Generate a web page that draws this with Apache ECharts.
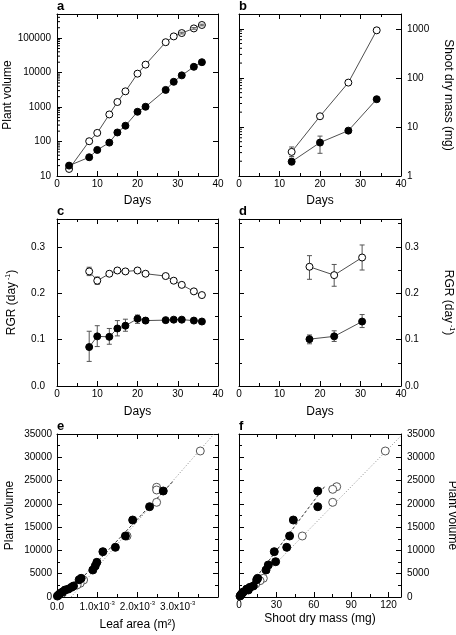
<!DOCTYPE html>
<html><head><meta charset="utf-8">
<script src="https://cdn.jsdelivr.net/npm/echarts@6.0.0/dist/echarts.min.js"></script>
<style>html,body{margin:0;padding:0;background:#fff;}#chart{width:456px;height:635px;}</style>
</head><body><div id="chart"></div>
<script>
// ---------- Panel a: plant volume vs days (log)
const daysA = [3, 8, 10, 13, 15, 17, 20, 22, 27, 29, 31, 34, 36];
const volOpenA = [16, 102, 178, 610, 1400, 2860, 9300, 17000, 76000, 112000, 140000, 191000, 240000];
const volFilledA = [20, 35, 57, 93, 183, 287, 730, 1020, 3140, 5400, 8300, 14700, 20000];
const errDaysOpenA = [31, 34, 36];
const errLoOpenA = [132000, 181000, 227000];
const errHiOpenA = [148000, 201000, 253000];

// ---------- Panel b: shoot dry mass vs days (log)
const daysB = [13, 20, 27, 34];
const massOpenB = [3.1, 16.5, 80, 930];
const errLoOpenB = [2.5, 15.5, 75, 880];
const errHiOpenB = [3.9, 17.5, 85, 980];
const massFilledB = [1.96, 4.8, 8.4, 36.7];
const errLoFilledB = [1.7, 2.9, 7.6, 33];
const errHiFilledB = [2.3, 6.5, 9.3, 41];

// ---------- Panel c: RGR (plant volume) vs days
const daysC = [8, 10, 13, 15, 17, 20, 22, 27, 29, 31, 34, 36];
const rgrOpenC = [0.247, 0.227, 0.242, 0.249, 0.247, 0.249, 0.242, 0.237, 0.227, 0.218, 0.204, 0.196];
const errLoOpenC = [0.238, 0.219, 0.237, 0.245, 0.243, 0.245, 0.238, 0.234, 0.224, 0.215, 0.201, 0.193];
const errHiOpenC = [0.256, 0.235, 0.247, 0.253, 0.251, 0.253, 0.246, 0.240, 0.230, 0.221, 0.207, 0.199];
const rgrFilledC = [0.084, 0.107, 0.106, 0.124, 0.130, 0.145, 0.141, 0.142, 0.143, 0.143, 0.141, 0.139];
const errLoFilledC = [0.053, 0.085, 0.090, 0.108, 0.118, 0.135, 0.135, 0.138, 0.139, 0.139, 0.137, 0.135];
const errHiFilledC = [0.118, 0.130, 0.124, 0.141, 0.144, 0.153, 0.147, 0.146, 0.147, 0.147, 0.145, 0.143];

// ---------- Panel d: RGR (shoot mass) vs days
const daysD = [17.4, 23.5, 30.4];
const rgrOpenD = [0.257, 0.239, 0.277];
const errLoOpenD = [0.230, 0.215, 0.250];
const errHiOpenD = [0.281, 0.262, 0.304];
const rgrFilledD = [0.101, 0.107, 0.139];
const errLoFilledD = [0.091, 0.096, 0.126];
const errHiFilledD = [0.110, 0.119, 0.154];

// ---------- Panel e: plant volume vs leaf area
const leafFilledE = [2.64e-3, 2.30e-3, 1.88e-3, 1.70e-3, 1.45e-3, 1.14e-3, 0.99e-3, 0.95e-3, 0.89e-3, 0.60e-3, 0.55e-3, 0.41e-3, 0.36e-3, 0.28e-3, 0.20e-3, 0.14e-3, 0.08e-3, 0.04e-3, 0.01e-3];
const volFilledE = [22760, 19390, 16530, 13100, 10670, 9730, 7450, 6660, 5800, 4010, 3700, 2360, 2080, 1700, 1500, 1100, 790, 450, 200];
const leafOpenE = [3.56e-3, 2.475e-3, 2.475e-3, 2.475e-3, 1.74e-3, 0.66e-3, 0.575e-3, 0.50e-3];
const volOpenE = [31350, 23560, 22980, 20330, 13100, 3650, 2940, 2600];
const fitFilledLeafE = [0.18e-3, 2.9e-3];
const fitFilledVolE = [0, 25000];
const fitOpenLeafE = [0.35e-3, 3.9e-3];
const fitOpenVolE = [0, 35000];
const leafTickVals = [0, 1e-3, 2e-3, 3e-3];
const leafTickText = ['0.0', '1.0x10', '2.0x10', '3.0x10'];

// ---------- Panel f: plant volume vs shoot dry mass
const massFilledF = [63.2, 63.2, 43.6, 40.6, 38.3, 28.3, 29.4, 23.5, 21.7, 15.0, 14.2, 11.5, 8.8, 6.2, 7.5, 3.5, 2.5, 1.5, 0.8];
const volFilledF = [22760, 19390, 16530, 13100, 10670, 9730, 7580, 6870, 5800, 4010, 3700, 2360, 2080, 1700, 1500, 1100, 790, 450, 200];
const massOpenF = [117.4, 78.4, 75.2, 75.2, 50.8, 19.5, 16.9, 13.4];
const volOpenF = [31350, 23690, 23120, 20330, 13100, 4010, 3500, 2800];
const fitFilledMassF = [2, 69.5];
const fitFilledVolF = [0, 24000];
const fitOpenMassF = [3.2, 130];
const fitOpenVolF = [0, 34600];

// ---------- log minor ticks
const logMinorMult = [2, 3, 4, 5, 6, 7, 8, 9];
const decadesA = [10, 100, 1000, 10000, 100000];
const decadesB = [1, 10, 100, 1000];

const FONT = "'Liberation Sans', Arial, Helvetica, sans-serif";
const zip = (a, b) => a.map((v, i) => [v, b[i]]);
const zip3 = (a, b, c) => a.map((v, i) => [v, b[i], c[i]]);

const grids = [
  {left: 57, top: 14, width: 161, height: 162},
  {left: 239, top: 14, width: 162, height: 162},
  {left: 57, top: 219, width: 161, height: 167},
  {left: 239, top: 219, width: 162, height: 167},
  {left: 57, top: 434, width: 161, height: 163},
  {left: 239, top: 434, width: 162, height: 163}
].map(g => Object.assign({show: false, containLabel: false, outerBoundsMode: 'none'}, g));

function mkAxis(o) {
  const ax = {
    gridIndex: o.grid,
    type: o.type || 'value',
    position: o.pos,
    min: o.min, max: o.max,
    axisLine: {show: true, onZero: false, lineStyle: {color: '#000', width: 1}},
    axisTick: {show: true, inside: true, length: 5, lineStyle: {color: '#000', width: 1}},
    minorTick: {show: !!o.minor, splitNumber: o.minor || 2, length: 3, lineStyle: {color: '#000', width: 1}},
    splitLine: {show: false},
    minorSplitLine: {show: false},
    axisLabel: {show: !!o.labels, margin: o.margin || 4, fontSize: 10, color: '#000', fontFamily: FONT,
      showMaxLabel: o.showMax !== undefined ? o.showMax : null, formatter: o.formatter, rich: o.rich},
    silent: true
  };
  if (o.interval !== undefined) ax.interval = o.interval;
  if (o.name) {
    ax.name = o.name;
    ax.nameLocation = 'middle';
    ax.nameGap = o.nameGap;
    if (o.nameRotate !== undefined) ax.nameRotate = o.nameRotate;
    ax.nameTextStyle = Object.assign({fontSize: 12, color: '#000', fontFamily: FONT}, o.nameStyle || {});
  }
  return ax;
}

const logFmt = v => String(Math.round(v));
const plainFmt = v => String(Math.round(v));
const rgrName = '{n|RGR (day}{s| -1}{n|)}';
const rgrRich = {rich: {n: {fontSize: 12, fontFamily: FONT, color: '#000'}, s: {fontSize: 7, fontFamily: FONT, color: '#000', verticalAlign: 'top', padding: [0, 0, 6, 0]}}};
const leafFmt = v => {
  const i = leafTickVals.findIndex(t => Math.abs(t - v) < 1e-9);
  if (i < 0) return '';
  return i === 0 ? '{m|' + leafTickText[i] + '}' : '{m|' + leafTickText[i] + '}{s|-3}';
};
const leafRich = {m: {fontSize: 10, fontFamily: FONT, color: '#000', lineHeight: 14}, s: {fontSize: 6, fontFamily: FONT, color: '#000', verticalAlign: 'top', lineHeight: 8}};
const hideNon = step => v => (Math.abs(v / step - Math.round(v / step)) < 1e-6 ? String(+v.toFixed(6)) : '');

const xAxes = [
  // a
  mkAxis({grid: 0, pos: 'bottom', min: 0, max: 40, interval: 10, minor: 2, labels: true, margin: 3, name: 'Days', nameGap: 19}),
  mkAxis({grid: 0, pos: 'top', min: 0, max: 40, interval: 10, minor: 2}),
  // b
  mkAxis({grid: 1, pos: 'bottom', min: 0, max: 40, interval: 10, minor: 2, labels: true, margin: 3, name: 'Days', nameGap: 19}),
  mkAxis({grid: 1, pos: 'top', min: 0, max: 40, interval: 10, minor: 2}),
  // c
  mkAxis({grid: 2, pos: 'bottom', min: 0, max: 40, interval: 10, minor: 2, labels: true, margin: 3, name: 'Days', nameGap: 20}),
  mkAxis({grid: 2, pos: 'top', min: 0, max: 40, interval: 10, minor: 2}),
  // d
  mkAxis({grid: 3, pos: 'bottom', min: 0, max: 40, interval: 10, minor: 2, labels: true, margin: 3, name: 'Days', nameGap: 20}),
  mkAxis({grid: 3, pos: 'top', min: 0, max: 40, interval: 10, minor: 2}),
  // e
  mkAxis({grid: 4, pos: 'bottom', min: 0, max: 0.004, interval: 0.001, minor: 2, labels: true, margin: 3,
    formatter: leafFmt, rich: leafRich, name: 'Leaf area (m\u00B2)', nameGap: 22}),
  mkAxis({grid: 4, pos: 'top', min: 0, max: 0.004, interval: 0.001, minor: 2}),
  // f
  mkAxis({grid: 5, pos: 'bottom', min: 0, max: 130, interval: 30, minor: 2, labels: true, margin: 3,
    formatter: hideNon(30), name: 'Shoot dry mass (mg)', nameGap: 16}),
  mkAxis({grid: 5, pos: 'top', min: 0, max: 130, interval: 30, minor: 2})
];

const yAxes = [
  // a
  mkAxis({grid: 0, pos: 'left', type: 'log', min: 10, max: 500000, labels: true, margin: 6, showMax: false,
    formatter: logFmt, name: 'Plant volume', nameGap: 39, nameRotate: 90}),
  mkAxis({grid: 0, pos: 'right', type: 'log', min: 10, max: 500000}),
  // b
  mkAxis({grid: 1, pos: 'right', type: 'log', min: 1, max: 2000, labels: true, margin: 6, showMax: false,
    formatter: logFmt, name: 'Shoot dry mass (mg)', nameGap: 41, nameRotate: -90}),
  mkAxis({grid: 1, pos: 'left', type: 'log', min: 1, max: 2000}),
  // c
  mkAxis({grid: 2, pos: 'left', min: 0, max: 0.36, interval: 0.1, minor: 2, labels: true, margin: 12, showMax: false,
    formatter: v => v.toFixed(1), name: rgrName, nameGap: 39, nameRotate: 90, nameStyle: rgrRich}),
  mkAxis({grid: 2, pos: 'right', min: 0, max: 0.36, interval: 0.1, minor: 2}),
  // d
  mkAxis({grid: 3, pos: 'right', min: 0, max: 0.36, interval: 0.1, minor: 2, labels: true, margin: 4, showMax: false,
    formatter: v => v.toFixed(1), name: rgrName, nameGap: 41, nameRotate: -90, nameStyle: rgrRich}),
  mkAxis({grid: 3, pos: 'left', min: 0, max: 0.36, interval: 0.1, minor: 2}),
  // e
  mkAxis({grid: 4, pos: 'left', min: 0, max: 35000, interval: 5000, minor: 2, labels: true, margin: 5,
    formatter: plainFmt, name: 'Plant volume', nameGap: 41, nameRotate: 90}),
  mkAxis({grid: 4, pos: 'right', min: 0, max: 35000, interval: 5000, minor: 2}),
  // f
  mkAxis({grid: 5, pos: 'right', min: 0, max: 35000, interval: 5000, minor: 2, labels: true, margin: 6,
    formatter: plainFmt, name: 'Plant volume', nameGap: 45, nameRotate: -90}),
  mkAxis({grid: 5, pos: 'left', min: 0, max: 35000, interval: 5000, minor: 2})
];

function lineS(gi, xs, ys, filled) {
  return {
    type: 'line', xAxisIndex: 2 * gi, yAxisIndex: 2 * gi, data: zip(xs, ys),
    symbol: 'circle', symbolSize: 7, showSymbol: true, showAllSymbol: true, z: 3,
    lineStyle: {color: '#222', width: 0.8},
    itemStyle: {color: filled ? '#000' : '#fff', borderColor: '#000', borderWidth: 1},
    emphasis: {disabled: true}, silent: true
  };
}
function scatterS(gi, xs, ys, filled) {
  return {
    type: 'scatter', xAxisIndex: 2 * gi, yAxisIndex: 2 * gi, data: zip(xs, ys),
    symbol: 'circle', symbolSize: 8, z: filled ? 4 : 3,
    itemStyle: {color: filled ? '#000' : '#fff', borderColor: filled ? '#000' : '#555', borderWidth: 1, opacity: 1},
    emphasis: {disabled: true}, silent: true
  };
}
function fitS(gi, xs, ys, dash, color) {
  return {
    type: 'line', xAxisIndex: 2 * gi, yAxisIndex: 2 * gi, data: zip(xs, ys),
    symbol: 'none', z: 2, clip: true,
    lineStyle: {color: color, width: 1, type: dash},
    emphasis: {disabled: true}, silent: true
  };
}
function errS(gi, xs, lo, hi, z) {
  return {
    type: 'custom', xAxisIndex: 2 * gi, yAxisIndex: 2 * gi, data: zip3(xs, lo, hi), z: z, silent: true,
    renderItem: function (params, api) {
      const p1 = api.coord([api.value(0), api.value(1)]);
      const p2 = api.coord([api.value(0), api.value(2)]);
      const w = 2.5, st = {stroke: '#555', lineWidth: 1};
      return {type: 'group', children: [
        {type: 'line', shape: {x1: p1[0], y1: p1[1], x2: p2[0], y2: p2[1]}, style: st},
        {type: 'line', shape: {x1: p1[0] - w, y1: p1[1], x2: p1[0] + w, y2: p1[1]}, style: st},
        {type: 'line', shape: {x1: p2[0] - w, y1: p2[1], x2: p2[0] + w, y2: p2[1]}, style: st}
      ]};
    }
  };
}
function minorLogS(gi, decades, maxV) {
  const vals = [];
  decades.forEach(d => logMinorMult.forEach(m => { if (d * m < maxV) vals.push([0, d * m]); }));
  return {
    type: 'custom', xAxisIndex: 2 * gi, yAxisIndex: 2 * gi, data: vals, z: 5, silent: true, clip: false,
    renderItem: function (params, api) {
      const p = api.coord([api.value(0), api.value(1)]);
      return {type: 'line', shape: {x1: p[0], y1: p[1], x2: p[0] + 3, y2: p[1]}, style: {stroke: '#000', lineWidth: 1}};
    }
  };
}

const series = [
  // a
  lineS(0, daysA, volOpenA, false),
  lineS(0, daysA, volFilledA, true),
  errS(0, errDaysOpenA, errLoOpenA, errHiOpenA, 5),
  minorLogS(0, decadesA, 500000),
  // b
  errS(1, daysB, errLoOpenB, errHiOpenB, 1),
  errS(1, daysB, errLoFilledB, errHiFilledB, 1),
  lineS(1, daysB, massOpenB, false),
  lineS(1, daysB, massFilledB, true),
  minorLogS(1, decadesB, 2000),
  // c
  errS(2, daysC, errLoOpenC, errHiOpenC, 1),
  errS(2, daysC, errLoFilledC, errHiFilledC, 1),
  lineS(2, daysC, rgrOpenC, false),
  lineS(2, daysC, rgrFilledC, true),
  // d
  errS(3, daysD, errLoOpenD, errHiOpenD, 1),
  errS(3, daysD, errLoFilledD, errHiFilledD, 1),
  lineS(3, daysD, rgrOpenD, false),
  lineS(3, daysD, rgrFilledD, true),
  // e
  fitS(4, fitOpenLeafE, fitOpenVolE, [1, 2], '#888'),
  fitS(4, fitFilledLeafE, fitFilledVolE, [3, 2], '#333'),
  scatterS(4, leafOpenE, volOpenE, false),
  scatterS(4, leafFilledE, volFilledE, true),
  // f
  fitS(5, fitOpenMassF, fitOpenVolF, [1, 2], '#888'),
  fitS(5, fitFilledMassF, fitFilledVolF, [3, 2], '#333'),
  scatterS(5, massOpenF, volOpenF, false),
  scatterS(5, massFilledF, volFilledF, true)
];

const letters = ['a', 'b', 'c', 'd', 'e', 'f'];
const letterPos = [[57, 0], [239, 0], [57, 205], [239, 205], [57, 420], [239, 420]];
const titles = letters.map((t, i) => ({
  text: t, left: letterPos[i][0], top: letterPos[i][1], padding: 0,
  textStyle: {fontSize: 13, fontWeight: 'bold', color: '#000', fontFamily: FONT}
}));

const chart = echarts.init(document.getElementById('chart'), null, {renderer: 'canvas'});
chart.setOption({
  animation: false,
  backgroundColor: '#fff',
  title: titles,
  grid: grids,
  xAxis: xAxes,
  yAxis: yAxes,
  series: series
});
</script>
</body></html>
